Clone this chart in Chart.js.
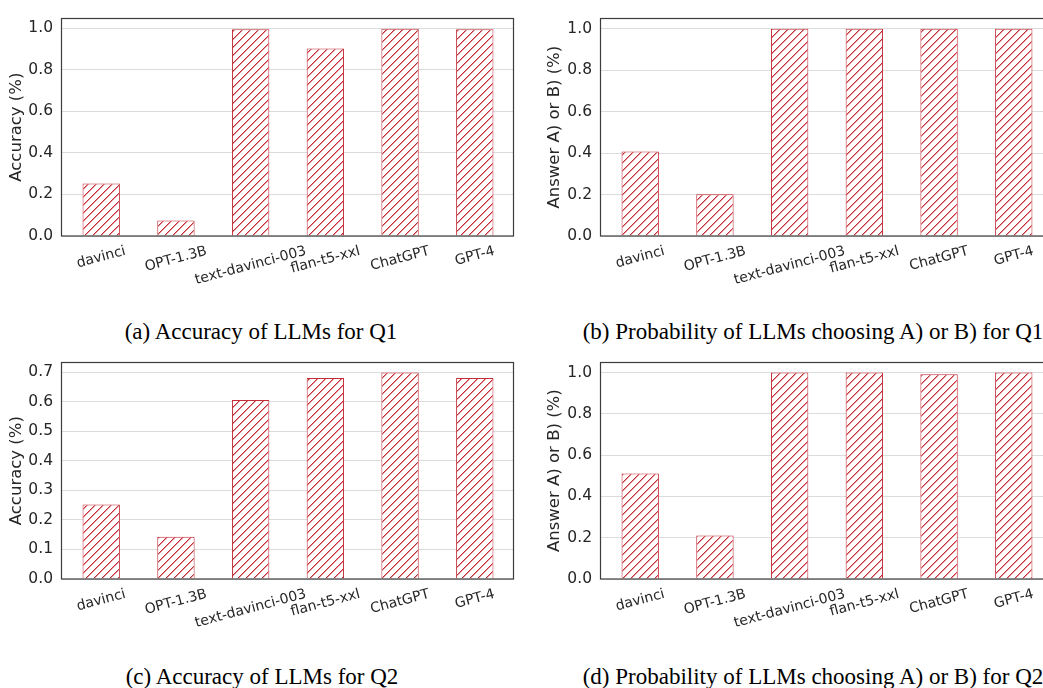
<!DOCTYPE html>
<html><head><meta charset="utf-8">
<script src="https://cdn.jsdelivr.net/npm/chart.js@4/dist/chart.umd.min.js"></script>
<style>
html,body{margin:0;padding:0;background:#fff;overflow:hidden;width:1043px;height:688px;position:relative;}
.panel{position:absolute;}
.panel canvas{display:block;}
.cap{position:absolute;font-family:'Liberation Serif','Times New Roman',serif;font-size:23px;color:#000;white-space:nowrap;transform:translate(-50%,-50%);line-height:1;}
</style></head><body>
<div class="panel" style="left:0;top:0;"><canvas id="c1" width="521" height="300"></canvas></div>
<div class="panel" style="left:521px;top:0;"><canvas id="c2" width="540" height="300"></canvas></div>
<div class="panel" style="left:0;top:344px;"><canvas id="c3" width="521" height="300"></canvas></div>
<div class="panel" style="left:521px;top:344px;"><canvas id="c4" width="540" height="300"></canvas></div>
<div class="cap" style="left:261px;top:331px;">(a) Accuracy of LLMs for Q1</div>
<div class="cap" style="left:813px;top:331px;">(b) Probability of LLMs choosing A) or B) for Q1</div>
<div class="cap" style="left:262px;top:676px;">(c) Accuracy of LLMs for Q2</div>
<div class="cap" style="left:813px;top:676px;">(d) Probability of LLMs choosing A) or B) for Q2</div>
<script>
// ---- data ----
const categories = ['davinci', 'OPT-1.3B', 'text-davinci-003', 'flan-t5-xxl', 'ChatGPT', 'GPT-4'];
const accuracyQ1 = [0.253, 0.074, 0.994, 0.902, 0.997, 0.994];
const answerABQ1 = [0.407, 0.201, 1.0, 1.0, 1.0, 1.0];
const accuracyQ2 = [0.252, 0.143, 0.605, 0.680, 0.698, 0.680];
const answerABQ2 = [0.511, 0.211, 1.0, 1.0, 0.992, 1.0];
const yTitleAcc = 'Accuracy (%)';
const yTitleAns = 'Answer A) or B) (%)';

const RED = '#c42b35';
const TEXT = '#262626';

function hatch(ctxRef) {
  const n = 8;
  const c = document.createElement('canvas');
  c.width = n; c.height = n;
  const g = c.getContext('2d');
  g.fillStyle = '#fff'; g.fillRect(0, 0, n, n);
  for (let i = 0; i < n; i++) {
    g.fillStyle = 'rgba(205,45,55,0.5)';
    g.fillRect((i + 1) % n, n - 1 - i, 1, 1);
    g.fillStyle = RED;
    g.fillRect(i, n - 1 - i, 1, 1);
  }
  return ctxRef.createPattern(c, 'repeat');
}

const framePlugin = {
  id: 'frame',
  afterDraw(chart) {
    const { ctx, chartArea: a } = chart;
    const xs = chart.scales.x;
    ctx.save();
    const fs = 14;
    ctx.font = fs + 'px "DejaVu Sans"';
    ctx.fillStyle = TEXT;
    ctx.textAlign = 'center';
    ctx.textBaseline = 'middle';
    const ang = 15 * Math.PI / 180;
    categories.forEach((lab, i) => {
      const w = ctx.measureText(lab).width;
      const h = fs * 1.17;
      const bh = w * Math.sin(ang) + h * Math.cos(ang);
      const x = xs.getPixelForValue(i);
      const y = a.bottom + 7 + bh / 2;
      ctx.save(); ctx.translate(x, y); ctx.rotate(-ang); ctx.fillText(lab, 0, 0); ctx.restore();
    });
    ctx.strokeStyle = '#3c3c3c';
    ctx.lineWidth = 1.2;
    ctx.strokeRect(Math.round(a.left) - 0.5, Math.round(a.top) + 0.5, Math.round(a.right - a.left), Math.round(a.bottom - a.top) - 0.5);
    ctx.restore();
  }
};

function makeChart(id, values, yTitle, yMax, step, titlePad, yAxisW, padRight, padTop, xAxisH) {
  const cv = document.getElementById(id);
  const ctx = cv.getContext('2d');
  return new Chart(ctx, {
    type: 'bar',
    data: {
      datasets: [{
        data: values.map((v, i) => ({ x: i, y: v })),
        backgroundColor: hatch(ctx),
        borderColor: RED,
        borderWidth: 1,
        categoryPercentage: 1,
        barPercentage: 0.5
      }]
    },
    options: {
      responsive: false,
      animation: false,
      events: [],
      layout: { padding: { top: padTop, right: padRight, left: 0, bottom: 0 } },
      plugins: { legend: { display: false }, tooltip: { enabled: false } },
      scales: {
        x: {
          type: 'linear', min: -0.525, max: 5.525, offset: false,
          ticks: { display: false, stepSize: 1 },
          grid: { display: false },
          border: { display: false },
          afterFit: s => { s.height = xAxisH; }
        },
        y: {
          min: 0, max: yMax,
          ticks: {
            stepSize: step, includeBounds: false, padding: 9,
            font: { family: 'DejaVu Sans', size: 15.5 }, color: TEXT,
            callback: v => Number(v).toFixed(1)
          },
          grid: { color: '#dcdcdc', lineWidth: 1, drawTicks: false },
          border: { display: false },
          title: {
            display: true, text: yTitle, color: TEXT,
            font: { family: 'DejaVu Sans', size: 16.5 },
            padding: { top: titlePad, bottom: 0 }
          },
          afterFit: s => { s.width = yAxisW; }
        }
      }
    },
    plugins: [framePlugin]
  });
}

const mx = arr => Math.max(...arr) * 1.05;
makeChart('c1', accuracyQ1, yTitleAcc, mx(accuracyQ1), 0.2, 7.1, 62, 7, 11, 64);
makeChart('c2', answerABQ1, yTitleAns, mx(answerABQ1), 0.2, 24.1, 80, 8, 11, 64);
makeChart('c3', accuracyQ2, yTitleAcc, mx(accuracyQ2), 0.1, 7.1, 62, 7, 11, 65);
makeChart('c4', answerABQ2, yTitleAns, mx(answerABQ2), 0.2, 24.1, 80, 8, 11, 65);
</script>
</body></html>
